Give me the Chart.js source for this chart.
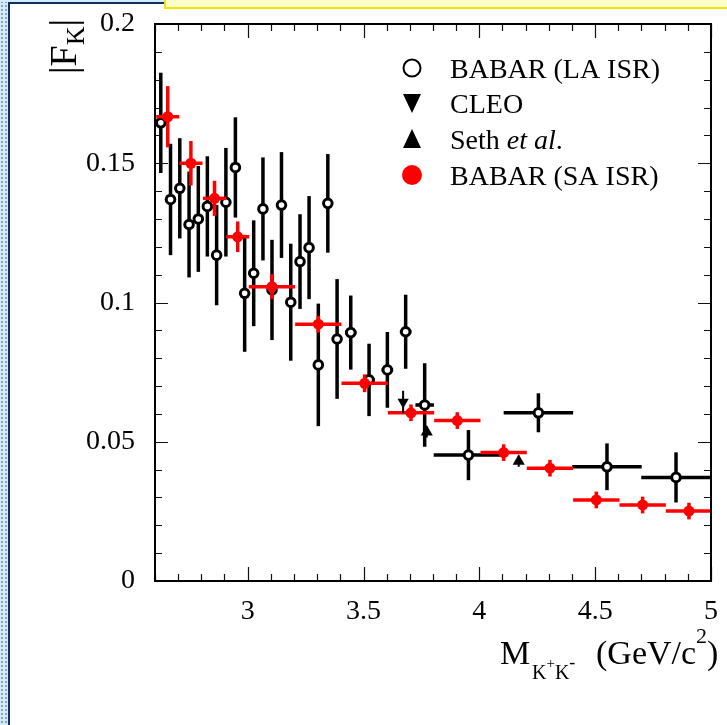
<!DOCTYPE html>
<html>
<head>
<meta charset="utf-8">
<script src="https://cdn.jsdelivr.net/npm/chart.js@4.4.1/dist/chart.umd.min.js"></script>
<style>
html,body{margin:0;padding:0;background:#fff;}
#wrap{position:relative;width:727px;height:725px;overflow:hidden;background:#fff;}
#c{position:absolute;left:0;top:0;}
#strip{position:absolute;left:0;top:0;width:8px;height:725px;background-color:#d3eafa;background-image:radial-gradient(circle,#8da3b8 0.8px,transparent 1.3px);background-size:4px 4px;}
#topstrip{position:absolute;left:0;top:0;width:165px;height:2px;background:#d3eafa;}
#vline{position:absolute;left:8px;top:2px;width:2px;height:723px;background:#12305e;}
#hline{position:absolute;left:8px;top:2px;width:157px;height:2px;background:#12305e;}
#ybox{position:absolute;left:164px;top:-3px;width:570px;height:8px;background:#ffffcc;border:2px solid #f3e600;}
</style>
</head>
<body>
<div id="wrap">
<canvas id="c" width="727" height="725"></canvas>
<div id="strip"></div><div id="topstrip"></div><div id="vline"></div><div id="hline"></div><div id="ybox"></div>
</div>
<script>
// ---- data ----
const laX    = [2.625,2.667,2.707,2.747,2.787,2.826,2.866,2.906,2.947,2.987,3.026,3.066,3.105,3.146,3.186,3.226,3.265,3.305,3.346,3.386,3.445,3.524,3.603,3.682,3.764,3.953,4.255,4.551,4.849];
const laY    = [0.1645,0.137,0.141,0.128,0.130,0.1345,0.117,0.136,0.1485,0.1033,0.1105,0.1336,0.1045,0.135,0.1001,0.1147,0.1197,0.0776,0.1356,0.0869,0.0892,0.0722,0.0758,0.0895,0.0632,0.0452,0.0604,0.041,0.0372];
const laYErr = [0.018,0.020,0.018,0.019,0.019,0.018,0.018,0.0195,0.018,0.021,0.019,0.0185,0.018,0.019,0.021,0.017,0.0185,0.022,0.0177,0.0215,0.0133,0.013,0.0136,0.0133,0.015,0.009,0.007,0.0084,0.009];
const laXErr = [0.02,0.02,0.02,0.02,0.02,0.02,0.02,0.02,0.02,0.02,0.02,0.02,0.02,0.02,0.02,0.02,0.02,0.02,0.02,0.02,0.025,0.025,0.025,0.025,0.04,0.15,0.15,0.15,0.15];

const saX    = [2.655,2.755,2.857,2.957,3.105,3.305,3.505,3.705,3.905,4.105,4.305,4.505,4.705,4.905];
const saY    = [0.1667,0.150,0.1374,0.1236,0.1057,0.0922,0.0710,0.0604,0.0576,0.0461,0.0405,0.0291,0.0273,0.0251];
const saYErr = [0.011,0.008,0.0063,0.0055,0.0045,0.003,0.0032,0.003,0.003,0.003,0.003,0.003,0.003,0.003];
const saXErr = [0.05,0.05,0.05,0.05,0.1,0.1,0.1,0.1,0.1,0.1,0.1,0.1,0.1,0.1];

const cleoX    = [3.671];
const cleoY    = [0.0643];
const cleoYErr = [0.004];

const sethX    = [3.773,4.170];
const sethY    = [0.0535,0.0430];
const sethYErr = [0.002,0.002];

const xMajor = [3,3.5,4,4.5,5];
const xTickLabels = ['3','3.5','4','4.5','5'];
const yMajor = [0,0.05,0.1,0.15,0.2];
const yTickLabels = ['0','0.05','0.1','0.15','0.2'];

const legendLabels = ['BABAR (LA ISR)','CLEO','Seth et al.','BABAR (SA ISR)'];

// ---- helpers ----
const SERIF = "'Liberation Serif','Times New Roman',serif";
const pts = (xs, ys) => xs.map((x,i)=>({x:x, y:ys[i]}));
const majorIndex = (arr, v) => arr.findIndex(m => Math.abs(m - v) < 1e-6);

const errBarPlugin = {
  id: 'errBars',
  beforeDatasetDraw(chart, args) {
    const ds = chart.data.datasets[args.index];
    if (!ds.errY && !ds.errX) return;
    const xs = chart.scales.x, ys = chart.scales.y, ctx = chart.ctx, a = chart.chartArea;
    ctx.save();
    ctx.beginPath(); ctx.rect(a.left, a.top, a.right - a.left, a.bottom - a.top); ctx.clip();
    ctx.strokeStyle = ds.barColor; ctx.lineWidth = ds.barWidth; ctx.lineCap = 'butt';
    ds.data.forEach((p, i) => {
      const px = xs.getPixelForValue(p.x), py = ys.getPixelForValue(p.y);
      if (ds.errY) {
        ctx.beginPath();
        ctx.moveTo(px, ys.getPixelForValue(p.y + ds.errY[i]));
        ctx.lineTo(px, ys.getPixelForValue(p.y - ds.errY[i]));
        ctx.stroke();
      }
      if (ds.errX) {
        ctx.beginPath();
        ctx.moveTo(xs.getPixelForValue(p.x - ds.errX[i]), py);
        ctx.lineTo(xs.getPixelForValue(p.x + ds.errX[i]), py);
        ctx.stroke();
      }
    });
    ctx.restore();
  }
};

function drawRuns(ctx, runs, x0, base) {
  let x = x0;
  runs.forEach(r => {
    ctx.font = (r.italic ? 'italic ' : '') + r.size + 'px ' + SERIF;
    ctx.fillText(r.t, x, base + (r.dy || 0));
    x += ctx.measureText(r.t).width + (r.gap || 0);
  });
  return x;
}

const decorPlugin = {
  id: 'decor',
  afterDraw(chart) {
    const ctx = chart.ctx, a = chart.chartArea, xs = chart.scales.x, ys = chart.scales.y;
    ctx.save();
    // ticks
    ctx.strokeStyle = '#111'; ctx.lineWidth = 1.2;
    xs.ticks.forEach(t => {
      const px = Math.round(xs.getPixelForValue(t.value)) + 0.5;
      const len = majorIndex(xMajor, t.value) >= 0 ? 14 : 7;
      ctx.beginPath();
      ctx.moveTo(px, a.bottom); ctx.lineTo(px, a.bottom - len);
      ctx.moveTo(px, a.top); ctx.lineTo(px, a.top + len);
      ctx.stroke();
    });
    ys.ticks.forEach(t => {
      const py = Math.round(ys.getPixelForValue(t.value)) + 0.5;
      const len = majorIndex(yMajor, t.value) >= 0 ? 13 : 7;
      ctx.beginPath();
      ctx.moveTo(a.left, py); ctx.lineTo(a.left + len, py);
      ctx.moveTo(a.right, py); ctx.lineTo(a.right - len, py);
      ctx.stroke();
    });
    // frame
    ctx.strokeStyle = '#000'; ctx.lineWidth = 2;
    ctx.strokeRect(a.left, a.top, a.right - a.left, a.bottom - a.top);

    ctx.fillStyle = '#000';
    ctx.textBaseline = 'alphabetic'; ctx.textAlign = 'left';
    // x title
    drawRuns(ctx, [{t:'M', size:34}], 500, 664);
    drawRuns(ctx, [
      {t:'K', size:20, dy:15},
      {t:'+', size:15, dy:4},
      {t:'K', size:20, dy:15},
      {t:'-', size:18, dy:4}
    ], 532, 664);
    drawRuns(ctx, [
      {t:'(GeV/c', size:34},
      {t:'2', size:22, dy:-21},
      {t:')', size:34}
    ], 596, 664);

    // y title (rotated)
    ctx.save();
    ctx.translate(76, 74);
    ctx.rotate(-Math.PI / 2);
    drawRuns(ctx, [
      {t:'|F', size:38},
      {t:'K', size:26, dy:8},
      {t:'|', size:38}
    ], 0, 0);
    ctx.restore();

    // legend
    const rows = [68, 103, 139, 175];
    const mx = 412, tx = 450;
    ctx.lineWidth = 2; ctx.strokeStyle = '#000'; ctx.fillStyle = '#fff';
    ctx.beginPath(); ctx.arc(mx, rows[0], 8.5, 0, Math.PI * 2); ctx.fill(); ctx.stroke();
    ctx.fillStyle = '#000';
    ctx.beginPath(); ctx.moveTo(mx - 9, rows[1] - 9); ctx.lineTo(mx + 9, rows[1] - 9); ctx.lineTo(mx, rows[1] + 10); ctx.closePath(); ctx.fill();
    ctx.beginPath(); ctx.moveTo(mx - 9, rows[2] + 9); ctx.lineTo(mx + 9, rows[2] + 9); ctx.lineTo(mx, rows[2] - 10); ctx.closePath(); ctx.fill();
    ctx.fillStyle = '#ff0000';
    ctx.beginPath(); ctx.arc(mx, rows[3], 10, 0, Math.PI * 2); ctx.fill();

    ctx.fillStyle = '#000';
    drawRuns(ctx, [{t:legendLabels[0], size:28}], tx, rows[0] + 10);
    drawRuns(ctx, [{t:legendLabels[1], size:28}], tx, rows[1] + 10);
    const sp = legendLabels[2].split(' ');
    drawRuns(ctx, [{t:sp[0] + ' ', size:28}, {t:sp[1] + ' ' + sp[2].replace('.', ''), size:28, italic:true}, {t:'.', size:28}], tx, rows[2] + 10);
    drawRuns(ctx, [{t:legendLabels[3], size:28}], tx, rows[3] + 10);
    ctx.restore();
  }
};

const zeroPad = s => { s.paddingTop = 0; s.paddingBottom = 0; s.paddingLeft = 0; s.paddingRight = 0; };

new Chart(document.getElementById('c'), {
  type: 'scatter',
  data: {
    datasets: [
      { label: legendLabels[0], data: pts(laX, laY), errX: laXErr, errY: laYErr, barColor: '#000', barWidth: 3.5,
        pointStyle: 'circle', pointRadius: 4.3, pointHoverRadius: 4.3, pointBorderWidth: 3,
        pointBorderColor: '#000', pointBackgroundColor: '#fff', order: 4 },
      { label: legendLabels[1], data: pts(cleoX, cleoY), errY: cleoYErr, barColor: '#000', barWidth: 2,
        pointStyle: 'triangle', pointRotation: 180, pointRadius: 6.5, pointHoverRadius: 6.5, pointBorderWidth: 0,
        pointBorderColor: '#000', pointBackgroundColor: '#000', order: 2 },
      { label: legendLabels[2], data: pts(sethX, sethY), errY: sethYErr, barColor: '#000', barWidth: 2,
        pointStyle: 'triangle', pointRadius: 7, pointHoverRadius: 7, pointBorderWidth: 0,
        pointBorderColor: '#000', pointBackgroundColor: '#000', order: 1 },
      { label: legendLabels[3], data: pts(saX, saY), errX: saXErr, errY: saYErr, barColor: '#ff0000', barWidth: 3.5,
        pointStyle: 'circle', pointRadius: 5.5, pointHoverRadius: 5.5, pointBorderWidth: 0,
        pointBorderColor: '#ff0000', pointBackgroundColor: '#ff0000', order: 3 }
    ]
  },
  options: {
    responsive: false,
    devicePixelRatio: 1,
    animation: false,
    events: [],
    layout: { padding: { left: 0, right: 16, top: 24, bottom: 0 } },
    plugins: { legend: { display: false }, tooltip: { enabled: false } },
    scales: {
      x: {
        type: 'linear', min: 2.6, max: 5,
        grid: { display: false, drawTicks: false }, border: { display: false },
        ticks: { stepSize: 0.1, autoSkip: false, maxRotation: 0, minRotation: 0, padding: 14, color: '#000',
          font: { family: SERIF, size: 28 },
          callback: v => { const i = majorIndex(xMajor, v); return i >= 0 ? xTickLabels[i] : ''; } },
        afterFit: s => { s.height = 144; zeroPad(s); }
      },
      y: {
        type: 'linear', min: 0, max: 0.2,
        grid: { display: false, drawTicks: false }, border: { display: false },
        ticks: { stepSize: 0.01, autoSkip: false, padding: 20, color: '#000',
          font: { family: SERIF, size: 28 },
          callback: v => { const i = majorIndex(yMajor, v); return i >= 0 ? yTickLabels[i] : ''; } },
        afterFit: s => { s.width = 155; zeroPad(s); }
      }
    }
  },
  plugins: [errBarPlugin, decorPlugin]
});
</script>
</body>
</html>
